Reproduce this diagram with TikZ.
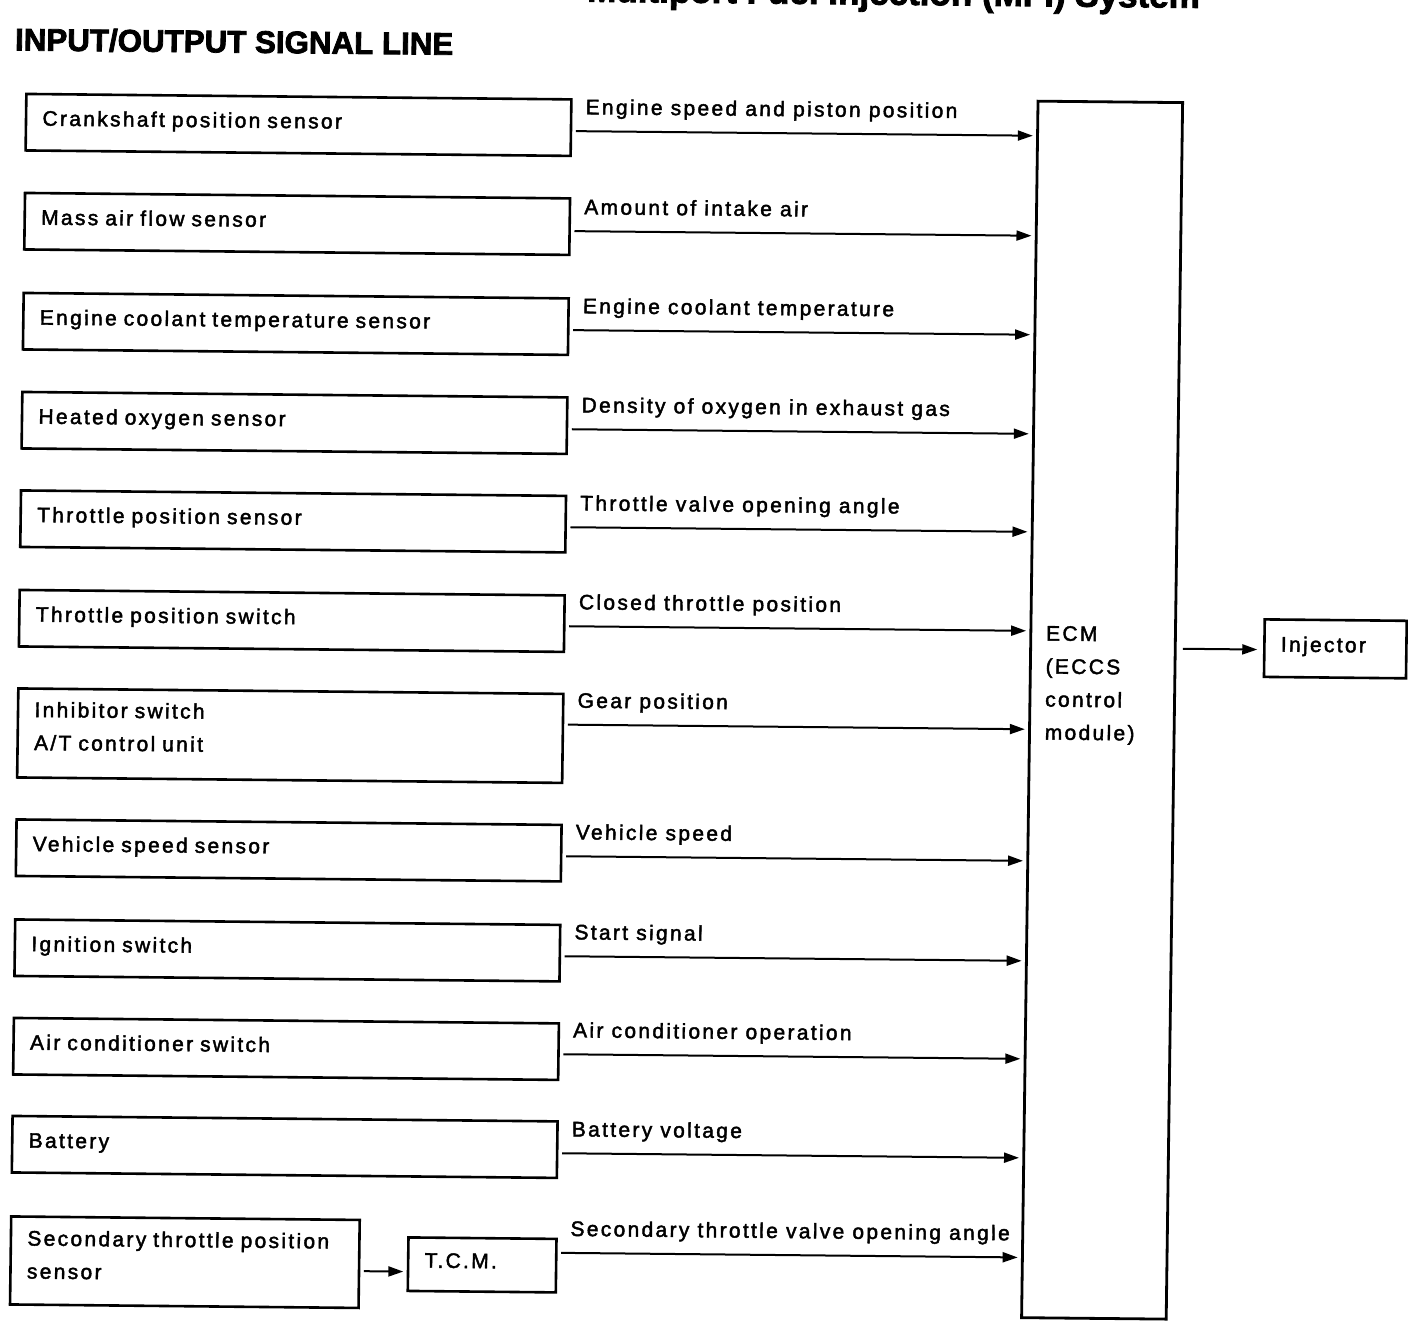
\documentclass[tikz,border=0pt]{standalone}
\usepackage{fontspec}
\setmainfont{Liberation Sans}
\newfontfamily\bodyfont{Liberation Sans}[LetterSpace=11,FakeBold=2]
\newfontfamily\titlefont{Liberation Sans}[BoldFeatures={FakeBold=2.5}]
\usetikzlibrary{arrows.meta}
\begin{document}
\begin{tikzpicture}[x=1pt,y=-1pt,
  txtfont/.style={font=\bodyfont\fontsize{21}{33}\selectfont},
  box/.style={draw, line width=2.6pt, anchor=north west, inner xsep=16.5pt, inner ysep=0pt,
    align=left, txtfont},
  onebox/.style={box, text width=#1-33pt, minimum height=56.5pt, text height=15pt, text depth=8.4pt},
  twobox/.style={box, text width=#1-33pt},
  lbl/.style={anchor=base west, inner sep=0pt, font=\bodyfont\fontsize{21}{24}\selectfont},
  sig/.style={line width=2pt, -{Triangle[length=15pt,width=10pt]}, shorten <=3.5pt, shorten >=3.5pt}
]
\fill[white] (0,0) rectangle (1408,1324);
\useasboundingbox (0,0) rectangle (1408,1324);
\begin{scope}[cm={1,-0.01,0.0135,1,(8.937pt,7.04pt)}, transform shape]
  % titles
  \node[anchor=base east, inner sep=0pt, font=\titlefont\bfseries\fontsize{35}{40}\selectfont] (maintitle) at (1191,3) {Multiport Fuel Injection (MFI) System};
  \node[anchor=base west, inner sep=0pt, font=\titlefont\bfseries\fontsize{31.3}{36}\selectfont] (title) at (6.6,57.4) {INPUT/OUTPUT SIGNAL LINE};

  % input boxes
  \node[onebox=545pt] (b1) at (17.5,99.5) {Crankshaft position sensor};
  \node[onebox=545pt] (b2) at (17.5,198.5) {Mass air flow sensor};
  \node[onebox=545pt] (b3) at (17.5,298.5) {Engine coolant temperature sensor};
  \node[onebox=545pt] (b4) at (17.5,397.5) {Heated oxygen sensor};
  \node[onebox=545pt] (b5) at (17.5,496) {Throttle position sensor};
  \node[onebox=545pt] (b6) at (17.5,595.5) {Throttle position switch};
  \node[twobox=545pt, minimum height=89pt, text depth=47.4pt] (b7) at (17.5,694) {Inhibitor switch\\A/T control unit};
  \node[onebox=545pt] (b8) at (17.5,825) {Vehicle speed sensor};
  \node[onebox=545pt] (b9) at (17.5,925) {Ignition switch};
  \node[onebox=545pt] (b10) at (17.5,1023.5) {Air conditioner switch};
  \node[onebox=545pt] (b11) at (17.5,1121.5) {Battery};
  \node[twobox=348.5pt, minimum height=88pt, text depth=45.4pt] (b12) at (17.5,1222) {Secondary throttle position\\sensor};
  \node[box, text width=115pt, minimum height=53.5pt, text height=15pt, text depth=8.4pt] (tcm) at (415,1239) {T.C.M.};

  % ECM and injector
  \node[draw, line width=2.8pt, anchor=north west, minimum width=144.6pt, minimum height=1216.5pt, inner sep=0pt] (ecm) at (1029,96.5) {};
  \node[anchor=west, inner sep=0pt, align=left, txtfont] (ecmtxt) at (1045.5,681.5) {ECM\\(ECCS\\control\\module)};
  \node[box, text width=109pt, minimum height=57.5pt, text height=15pt, text depth=8.4pt] (inj) at (1262.8,612.5) {Injector};

  % signal labels
  \node[lbl] (l1) at (578,115.5) {Engine speed and piston position};
  \node[lbl] (l2) at (578,215.5) {Amount of intake air};
  \node[lbl] (l3) at (578,314.5) {Engine coolant temperature};
  \node[lbl] (l4) at (578,413.6) {Density of oxygen in exhaust gas};
  \node[lbl] (l5) at (578,511.6) {Throttle valve opening angle};
  \node[lbl] (l6) at (578,610.6) {Closed throttle position};
  \node[lbl] (l7) at (578,709) {Gear position};
  \node[lbl] (l8) at (578,840.6) {Vehicle speed};
  \node[lbl] (l9) at (578,940.6) {Start signal};
  \node[lbl] (l10) at (578,1038.6) {Air conditioner operation};
  \node[lbl] (l11) at (578,1137.6) {Battery voltage};
  \node[lbl] (l12) at (578,1237.2) {Secondary throttle valve opening angle};

  % connectors
  \draw[sig] (b1.east |- 0,132.5) -- (ecm.west |- 0,132.5);
  \draw[sig] (b2.east |- 0,232.5) -- (ecm.west |- 0,232.5);
  \draw[sig] (b3.east |- 0,331.5) -- (ecm.west |- 0,331.5);
  \draw[sig] (b4.east |- 0,430.6) -- (ecm.west |- 0,430.6);
  \draw[sig] (b5.east |- 0,528.6) -- (ecm.west |- 0,528.6);
  \draw[sig] (b6.east |- 0,627.6) -- (ecm.west |- 0,627.6);
  \draw[sig] (b7.east |- 0,726) -- (ecm.west |- 0,726);
  \draw[sig] (b8.east |- 0,857.6) -- (ecm.west |- 0,857.6);
  \draw[sig] (b9.east |- 0,957.6) -- (ecm.west |- 0,957.6);
  \draw[sig] (b10.east |- 0,1055.6) -- (ecm.west |- 0,1055.6);
  \draw[sig] (b11.east |- 0,1154.6) -- (ecm.west |- 0,1154.6);
  \draw[sig] (tcm.east |- 0,1254.2) -- (ecm.west |- 0,1254.2);
  \draw[sig] (b12.east |- 0,1274.5) -- (tcm.west |- 0,1274.5);
  \draw[sig, shorten <=6pt, shorten >=6pt] (ecm.east |- 0,644) -- (inj.west |- 0,644);
\end{scope}
\end{tikzpicture}
\end{document}
